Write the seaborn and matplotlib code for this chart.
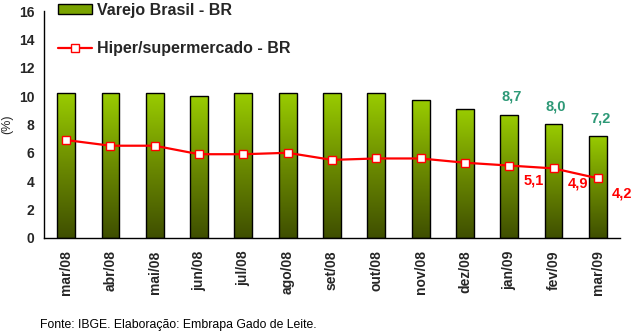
import matplotlib
matplotlib.use("Agg")
import matplotlib.pyplot as plt
import seaborn as sns
import numpy as np
import pandas as pd
from matplotlib.patches import Patch
from matplotlib.lines import Line2D
from matplotlib.colors import LinearSegmentedColormap

months = ["mar/08", "abr/08", "mai/08", "jun/08", "jul/08", "ago/08", "set/08",
          "out/08", "nov/08", "dez/08", "jan/09", "fev/09", "mar/09"]
varejo = [10.2, 10.2, 10.2, 10.0, 10.2, 10.2, 10.2, 10.2, 9.7, 9.1, 8.7, 8.0, 7.2]
hiper = [6.9, 6.5, 6.5, 5.9, 5.9, 6.0, 5.5, 5.6, 5.6, 5.3, 5.1, 4.9, 4.2]
varejo_labels = {10: "8,7", 11: "8,0", 12: "7,2"}
hiper_labels = {10: "5,1", 11: "4,9", 12: "4,2"}

sns.set_theme(style="white")
plt.rcParams['font.family'] = ['Liberation Sans', 'DejaVu Sans']

df = pd.DataFrame({"mes": months, "varejo": varejo, "hiper": hiper})

fig = plt.figure(figsize=(6.36, 3.35), dpi=100)
ax = fig.add_axes([0.069, 0.29, 0.906, 0.677])

sns.barplot(data=df, x="mes", y="varejo", ax=ax, width=0.4, color="#99cc00",
            edgecolor="black", linewidth=1.0, zorder=2)

cmap = LinearSegmentedColormap.from_list("g", ["#3f4f00", "#6b8a00", "#99cc00"])
grad = np.linspace(0, 1, 256).reshape(-1, 1)
for p in ax.patches:
    x0, y0 = p.get_x(), p.get_y()
    w, h = p.get_width(), p.get_height()
    im = ax.imshow(grad, extent=[x0, x0 + w, y0, y0 + h], origin="lower",
                   aspect="auto", cmap=cmap, zorder=2)
    im.set_clip_path(p)
    p.set_facecolor("none")
    p.set_zorder(3)

xs = np.arange(len(months))
ax.plot(xs, df["hiper"], color="red", linewidth=1.6, marker="s", markersize=6,
        markerfacecolor="white", markeredgecolor="red", markeredgewidth=1.0, zorder=4)

for i, t in varejo_labels.items():
    ax.text(xs[i] + 0.05, varejo[i] + 0.75, t, ha="center", va="bottom",
            color="#2e9977", fontsize=10.5, fontweight="bold", zorder=5)
for i, t in hiper_labels.items():
    ax.text(xs[i] + 0.55, hiper[i] - 0.55, t, ha="center", va="top",
            color="#ff0000", fontsize=10.5, fontweight="bold", zorder=5)

ax.set_xlim(-0.5, len(months) - 0.5)
ax.set_ylim(0, 16)
ax.set_yticks(np.arange(0, 17, 2))
ax.set_yticklabels([str(v) for v in range(0, 17, 2)], fontsize=10, fontweight="bold")
ax.set_xticks(xs)
ax.set_xticklabels(months, rotation=90, fontsize=10, fontweight="bold")
ax.set_xticks(np.arange(-0.5, len(months), 1), minor=True)
ax.tick_params(axis="x", which="major", length=0, pad=9)
ax.tick_params(axis="x", which="minor", length=5, width=1, color="black", direction="out")
ax.tick_params(axis="y", length=4, width=1, color="black", direction="out", pad=3)
ax.set_xlabel("")
ax.set_ylabel("(%)", fontsize=9, labelpad=4)
for s in ["top", "right"]:
    ax.spines[s].set_visible(False)
for s in ["left", "bottom"]:
    ax.spines[s].set_color("black")
    ax.spines[s].set_linewidth(1)
ax.grid(False)

handles = [Patch(facecolor="#7aa300", edgecolor="black", linewidth=1),
           Line2D([0], [0], color="red", linewidth=1.6, marker="s", markersize=6,
                  markerfacecolor="white", markeredgecolor="red")]
ax.legend(handles, ["Varejo Brasil - BR", "Hiper/supermercado - BR"],
          loc="upper left", bbox_to_anchor=(0.0, 1.1), frameon=False,
          prop={"size": 11.5, "weight": "bold"},
          labelspacing=1.45, handlelength=2.1, handleheight=0.6, handletextpad=0.35)

fig.text(0.063, 0.02, "Fonte: IBGE. Elaboração: Embrapa Gado de Leite.", fontsize=8.8,
         color="black")

fig.savefig("out.png", dpi=100, facecolor="white")
